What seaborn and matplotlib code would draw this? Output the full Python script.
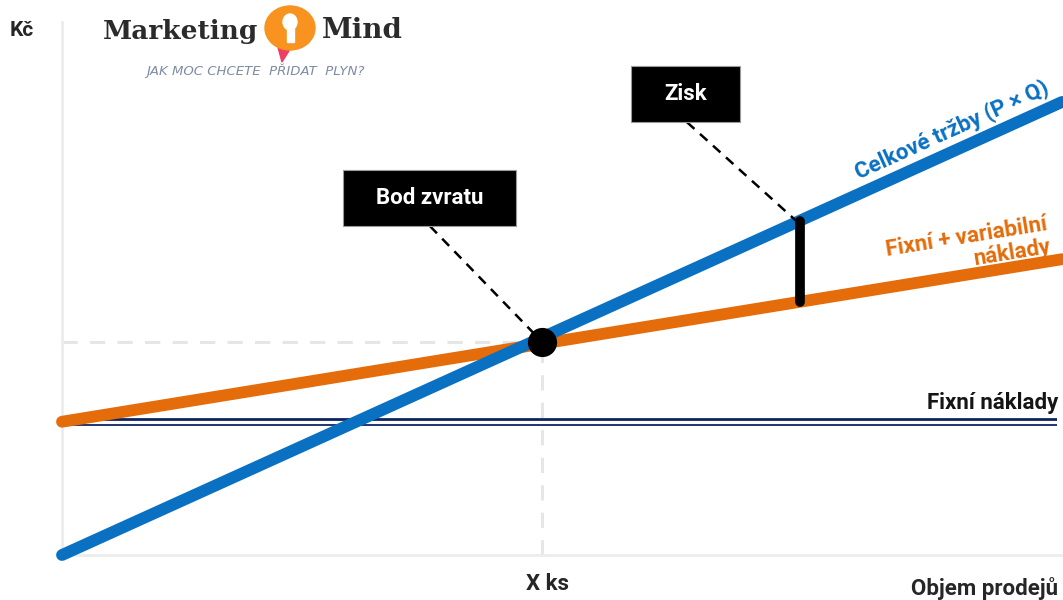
import numpy as np
import pandas as pd
import matplotlib.pyplot as plt
import matplotlib.patches as mpatches
import seaborn as sns

# chart values (x: objem prodeje, y: Kč)
quantity = [0, 100]
revenue = [0, 85]          # Celkové tržby (P x Q)
total_cost = [25, 55.5]    # Fixní + variabilní náklady
fixed_cost = [25, 25]      # Fixní náklady
fixed_end = 99.5
break_even_q = 48
break_even_value = 40
profit_q = 73.8

BLUE = '#0a70c2'
ORANGE = '#e46c0a'
NAVY = '#0f2463'
GRID = '#e6e6e6'
FS = 16

sns.set_theme(style='white')
plt.rcParams['font.family'] = ['Roboto', 'DejaVu Sans']

df = pd.DataFrame({
    'q': quantity * 2,
    'value': revenue + total_cost,
    'series': ['Celkové tržby'] * 2 + ['Fixní + variabilní náklady'] * 2,
})
fixed_df = pd.DataFrame({'q': [0, fixed_end], 'value': fixed_cost})

fig = plt.figure(figsize=(10.63, 6.0), dpi=100)
ax = fig.add_axes([62 / 1063, 45 / 600, 1001 / 1063, 533 / 600])
ax.set_xlim(0, 100.1)
ax.set_ylim(0, 100)

# helper guides to the break-even point
ax.plot([0, break_even_q], [break_even_value] * 2, color=GRID, lw=2.2,
        dashes=(5, 4), zorder=1)
ax.plot([break_even_q] * 2, [0, break_even_value], color=GRID, lw=2.2,
        dashes=(5, 4), zorder=1)

# fixed costs as a double line
sns.lineplot(data=fixed_df, x='q', y='value', color=NAVY, lw=5.6, ax=ax,
             zorder=2, solid_capstyle='butt')
sns.lineplot(data=fixed_df, x='q', y='value', color='white', lw=2.3, ax=ax,
             zorder=2.1, solid_capstyle='butt')

sns.lineplot(data=df, x='q', y='value', hue='series',
             hue_order=['Fixní + variabilní náklady', 'Celkové tržby'],
             palette=[ORANGE, BLUE], lw=8.5, legend=False, ax=ax,
             solid_capstyle='round', clip_on=False, zorder=3)
for ln, z in zip(ax.get_lines()[-2:], [3, 4]):
    ln.set_zorder(z)

# profit bar
top = np.interp(profit_q, quantity, revenue)
bottom = np.interp(profit_q, quantity, total_cost)
ax.plot([profit_q, profit_q], [bottom, top], color='black', lw=7,
        solid_capstyle='round', zorder=5)

# break-even dot
ax.plot(break_even_q, break_even_value, 'o', color='black', ms=20, zorder=6)

# callout boxes with dashed leaders
def callout(x0, x1, y0, y1, label, tip):
    ax.add_patch(mpatches.Rectangle((x0, y0), x1 - x0, y1 - y0, facecolor='black',
                                    edgecolor='#9a9a9a', lw=0.8, zorder=7))
    ax.text((x0 + x1) / 2, (y0 + y1) / 2, label, color='white', fontsize=FS,
            fontweight='bold', ha='center', va='center', zorder=8)
    ax.plot([tip[0][0], tip[1][0]], [tip[0][1], tip[1][1]], color='black',
            lw=1.8, dashes=(4, 3), zorder=5)

callout(28.1, 45.4, 61.7, 72.2, 'Bod zvratu', [(36.8, 61.7), (break_even_q, break_even_value)])
callout(56.9, 67.8, 81.2, 91.7, 'Zisk', [(62.5, 81.2), (profit_q - 0.4, top)])

# line labels
ax.text(89.0, 79.6, 'Celkové tržby (P × Q)', color=BLUE, fontsize=FS,
        fontweight='bold', rotation=24.4, rotation_mode='anchor',
        ha='center', va='center')
ax.text(98.7, 60.0, 'Fixní + variabilní\nnáklady', color=ORANGE, fontsize=FS,
        fontweight='bold', rotation=9.2, rotation_mode='anchor',
        ha='right', va='center', multialignment='right', linespacing=1.1)
ax.text(99.6, 27.4, 'Fixní náklady', color='#151515', fontsize=FS,
        fontweight='bold', ha='right', va='baseline')

# axes look
sns.despine(ax=ax)
for side in ['left', 'bottom']:
    ax.spines[side].set_color('#ececec')
    ax.spines[side].set_linewidth(2)
ax.set_xticks([])
ax.set_yticks([])
ax.set_xlabel('')
ax.set_ylabel('')

fig.text(10 / 1063, 1 - 30 / 600, 'Kč', fontsize=15, fontweight='bold', va='center')
fig.text(547 / 1063, 1 - 584 / 600, 'X ks', fontsize=FS, fontweight='bold',
         ha='center', va='center')
fig.text(1058 / 1063, 1 - 588 / 600, 'Objem prodejů', fontsize=FS,
         fontweight='bold', ha='right', va='center')

# logo
fig.text(103 / 1063, 1 - 31 / 600, 'Marketing', family='DejaVu Serif',
         fontsize=19, fontweight='bold', color='#2b2b2b', va='center')
fig.text(322 / 1063, 1 - 31 / 600, 'Mind', family='DejaVu Serif',
         fontsize=20, fontweight='bold', color='#2b2b2b', va='center')
cx, cy = 290 / 1063, 1 - 28 / 600
fig.add_artist(mpatches.Polygon([(cx - 14 / 1063, cy - 12 / 600), (cx + 2 / 1063, cy - 18 / 600),
                                 (cx - 8 / 1063, cy - 34 / 600)], closed=True,
                                transform=fig.transFigure, color='#ef3e63'))
fig.add_artist(mpatches.Ellipse((cx, cy), 50 / 1063, 44 / 600, transform=fig.transFigure,
                                color='#f7931e'))
fig.add_artist(mpatches.Ellipse((cx, cy + 6 / 600), 14 / 1063, 16 / 600,
                                transform=fig.transFigure, color='white'))
fig.add_artist(mpatches.Rectangle((cx - 3.5 / 1063, cy - 14 / 600), 7 / 1063, 14 / 600,
                                  transform=fig.transFigure, color='white'))
fig.text(255 / 1063, 1 - 71 / 600, 'JAK MOC CHCETE  PŘIDAT  PLYN?', family='DejaVu Sans',
         fontsize=9.5, style='italic', color='#7d8ca3', ha='center', va='center')

fig.savefig('out.png', dpi=100)
